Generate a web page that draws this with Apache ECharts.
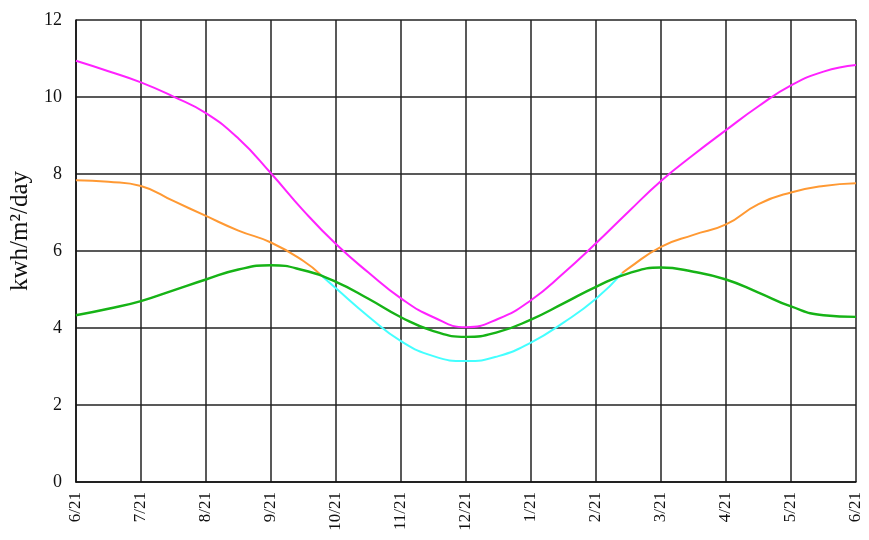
<!DOCTYPE html>
<html>
<head>
<meta charset="utf-8">
<script src="https://cdn.jsdelivr.net/npm/echarts@6/dist/echarts.min.js"></script>
<style>html,body{margin:0;padding:0;background:#fff;}#c{width:869px;height:540px;}</style>
</head>
<body>
<div id="c"></div>
<script>
// x positions in months since 6/21
const monthPos = [0,0.5,1,1.5,2,2.5,3,3.5,4,4.5,5,5.5,6,6.5,7,7.5,8,8.5,9,9.5,10,10.5,11,11.5,12];
const tickLabels = ['6/21','7/21','8/21','9/21','10/21','11/21','12/21','1/21','2/21','3/21','4/21','5/21','6/21'];
const yTicks = [0,2,4,6,8,10,12];

const magenta = [10.94,10.67,10.38,10.01,9.58,8.92,8.02,7.05,6.18,5.44,4.77,4.28,4.02,4.24,4.72,5.42,6.2,7.02,7.82,8.50,9.14,9.76,10.30,10.66,10.83];
const green   = [4.33,4.50,4.70,4.98,5.26,5.52,5.63,5.50,5.20,4.76,4.28,3.92,3.77,3.90,4.22,4.64,5.07,5.42,5.57,5.46,5.26,4.92,4.56,4.33,4.29];
const orange  = [7.84,7.80,7.69,7.30,6.91,6.53,6.22,5.74,null,null,null,null,null,null,null,null,null,5.55,6.11,6.42,6.69,7.22,7.52,7.69,7.76];
const cyan    = [null,null,null,null,null,null,null,null,5.03,4.30,3.66,3.27,3.14,3.27,3.62,4.14,4.76,null,null,null,null,null,null,null,null];
// points where orange and cyan meet (on the green curve)
const joinX = [3.76, 8.40];
const joinY = [5.39, 5.42];

function pairs(vals){
  const out=[];
  for(let i=0;i<monthPos.length;i++){ if(vals[i]!==null) out.push([monthPos[i],vals[i]]); }
  return out;
}
function sortPts(a){ return a.sort((p,q)=>p[0]-q[0]); }
const orangeA = sortPts(pairs(orange).filter(p=>p[0]<joinX[0]).concat([[joinX[0],joinY[0]]]));
const orangeB = sortPts(pairs(orange).filter(p=>p[0]>joinX[1]).concat([[joinX[1],joinY[1]]]));
const cyanPts = sortPts(pairs(cyan).concat([[joinX[0],joinY[0]],[joinX[1],joinY[1]]]));

const chart = echarts.init(document.getElementById('c'));
const serif = '"Liberation Serif","DejaVu Serif",serif';
const lineBase = {type:'line', showSymbol:false, smooth:0.5, z:3};
chart.setOption({
  animation:false,
  backgroundColor:'#fff',
  grid:{left:75,right:13,top:20,bottom:58},
  xAxis:{type:'value',min:0,max:12,interval:1,
    axisLine:{show:true,lineStyle:{color:'#111',width:1.5}},
    axisTick:{show:false},
    splitLine:{show:true,lineStyle:{color:'#222',width:1.5}},
    axisLabel:{rotate:90,margin:10,fontFamily:serif,fontSize:17,color:'#111',
      formatter:v=>tickLabels[Math.round(v)]}
  },
  yAxis:{type:'value',min:0,max:12,interval:2,
    name:'kwh/m²/day',nameLocation:'middle',nameGap:40,
    nameTextStyle:{fontFamily:serif,fontSize:25,color:'#111',padding:[0,0,0,40]},
    axisLine:{show:true,lineStyle:{color:'#111',width:1.5}},
    axisTick:{show:false},
    splitLine:{show:true,lineStyle:{color:'#222',width:1.5}},
    axisLabel:{margin:14,fontFamily:serif,fontSize:18,color:'#111',
      formatter:v=>String(yTicks[yTicks.indexOf(v)])}
  },
  series:[
    Object.assign({},lineBase,{data:pairs(magenta),lineStyle:{color:'#ff22ff',width:2}}),
    Object.assign({},lineBase,{data:orangeA,lineStyle:{color:'#ff9933',width:2}}),
    Object.assign({},lineBase,{data:orangeB,lineStyle:{color:'#ff9933',width:2}}),
    Object.assign({},lineBase,{data:cyanPts,lineStyle:{color:'#44ffff',width:2}}),
    Object.assign({},lineBase,{data:pairs(green),lineStyle:{color:'#16b316',width:2.4},z:4})
  ]
});
</script>
</body>
</html>
